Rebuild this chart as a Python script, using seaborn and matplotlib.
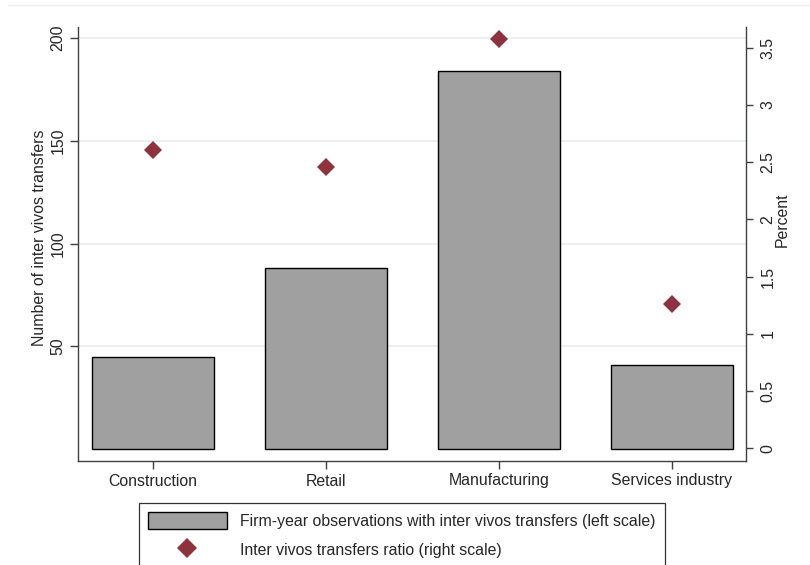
import numpy as np
import matplotlib
matplotlib.use("Agg")
import matplotlib.pyplot as plt
from matplotlib.patches import Patch
from matplotlib.lines import Line2D
import seaborn as sns

# data
industries = ["Construction", "Retail", "Manufacturing", "Services industry"]
transfers_count = [45, 88, 184, 41]
transfers_ratio = [2.61, 2.46, 3.575, 1.265]
left_ticks = [50, 100, 150, 200]
right_ticks = [0, 0.5, 1, 1.5, 2, 2.5, 3, 3.5]

bar_color = "#a0a0a0"
diamond_color = "#8c333d"
grid_color = "#e8eff1"
spine_color = "#404040"

sns.set_style("white")
plt.rcParams["font.family"] = ["Liberation Sans", "DejaVu Sans"]
fs = 11.4

fig = plt.figure(figsize=(8.1, 5.65), dpi=100)
ax = fig.add_axes([78 / 810, 104 / 565, 668 / 810, 434 / 565])

# faint outer region edge at the top
fig.add_artist(Line2D([8 / 810, 1], [1 - 5 / 565, 1 - 5 / 565],
                      transform=fig.transFigure, color="#f0f0f0", lw=1))

# horizontal grid at left-scale ticks
for t in left_ticks:
    ax.axhline(t, color=grid_color, lw=1.3, zorder=0)

sns.barplot(x=industries, y=transfers_count, ax=ax, color=bar_color,
            saturation=1, width=0.705, edgecolor="black", linewidth=1,
            zorder=2)

ax2 = ax.twinx()
sns.pointplot(x=industries, y=transfers_ratio, ax=ax2, color=diamond_color,
              markers="D", linestyle="none", markersize=9.5,
              markeredgewidth=0, errorbar=None)

ax.set_xlim(-0.434, 3.428)
ax.set_ylim(-5.8, 205.4)
ax2.set_ylim(-0.11, 3.68)

ax.set_yticks(left_ticks)
ax.set_yticklabels([str(t) for t in left_ticks], rotation=90, va="center")
ax2.set_yticks(right_ticks)
ax2.set_yticklabels([f"{t:g}" for t in right_ticks], rotation=90, va="center")

ax.tick_params(axis="y", direction="out", length=6, width=1, color=spine_color,
               labelsize=fs, pad=3, left=True)
ax.tick_params(axis="x", direction="out", length=6, width=1, color=spine_color,
               labelsize=fs, pad=3, bottom=True)
ax2.tick_params(axis="y", direction="out", length=5, width=1, color=spine_color,
                labelsize=fs, pad=5.5, right=True)

ax.set_xlabel("")
ax2.set_xlabel("")
ax.set_ylabel("Number of inter vivos transfers", fontsize=fs)
ax.yaxis.set_label_coords(-0.057, 0.514)
ax2.set_ylabel("Percent", fontsize=fs, rotation=90)
ax2.yaxis.set_label_coords(1.054, 0.555)
ax2.yaxis.label.set_va("center")
ax2.yaxis.label.set_ha("center")
ax.yaxis.label.set_va("center")

for s in ["top", "right"]:
    ax.spines[s].set_visible(False)
for s in ["top", "left", "bottom"]:
    ax2.spines[s].set_visible(False)
for s in ["left", "bottom"]:
    ax.spines[s].set_color(spine_color)
    ax.spines[s].set_linewidth(1)
ax2.spines["right"].set_color(spine_color)
ax2.spines["right"].set_linewidth(1)

handles = [
    Patch(facecolor=bar_color, edgecolor="black", linewidth=1),
    Line2D([], [], marker="D", ls="none", color=diamond_color,
           markersize=10, markeredgewidth=0),
]
labels = [
    "Firm-year observations with inter vivos transfers (left scale)",
    "Inter vivos transfers ratio (right scale)",
]
leg = fig.legend(handles, labels, loc="upper left",
                 bbox_to_anchor=(139 / 810, 1 - 503 / 565),
                 fontsize=fs, frameon=True, fancybox=False,
                 edgecolor="#333333", framealpha=1,
                 handlelength=5.0, handleheight=1.35, handletextpad=0.85,
                 labelspacing=0.72, borderpad=0.55, borderaxespad=0,
                 numpoints=1)
leg.get_frame().set_linewidth(0.9)

fig.savefig("out.png", dpi=100)
